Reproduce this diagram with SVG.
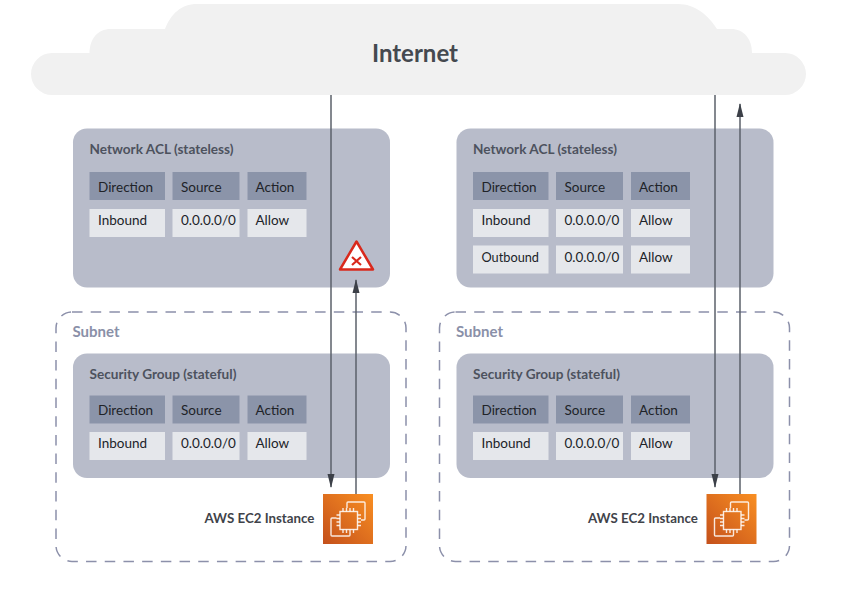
<svg xmlns="http://www.w3.org/2000/svg" xmlns:xlink="http://www.w3.org/1999/xlink" width="846" height="597" viewBox="0 0 846 597">
<style>
text{font-family:Lato,"Open Sans","Liberation Sans",sans-serif}
.panel{fill:#b8bcca}
.hd{fill:#8b94a9}
.cell{fill:#e5e7eb}
.t{font-size:13.5px;fill:#202328}
.title{font-size:13.6px;font-weight:700;fill:#4d525e}
.subnet{fill:none;stroke:#8c90aa;stroke-width:1.5;stroke-dasharray:10.500 8.200}
.sub{font-size:15px;font-weight:700;fill:#8a90a8}
.lbl{font-size:13.300px;font-weight:700;fill:#3f434a}
.cx{fill:none;stroke:#5b606a;stroke-width:1.5}
.ic{fill:none;stroke:#fff;stroke-opacity:.85;stroke-width:1.400}
</style>
<defs>
<marker id="arr" markerUnits="userSpaceOnUse" markerWidth="14" markerHeight="8" refX="13" refY="4" orient="auto" viewBox="0 0 14 8"><path d="M14 4L0 0.500V7.500Z" fill="#3c4048"/></marker>
<linearGradient id="g" x1="0" y1="1" x2="1" y2="0"><stop offset="0" stop-color="#c4501b"/><stop offset="1" stop-color="#f98f22"/></linearGradient>
<g id="icon">
<rect width="50" height="50" fill="url(#g)"/>
<rect x="17" y="17.500" width="17.500" height="18" class="ic"/>
<path class="ic" d="M24 14V9a1 1 0 0 1 1-1H41a1 1 0 0 1 1 1V25a1 1 0 0 1-1 1H38M13.500 24H9a1 1 0 0 0-1 1V41a1 1 0 0 0 1 1H26a1 1 0 0 0 1-1V39M20 17.500v-3.500M23.500 17.500v-3.500M27 17.500v-3.500M30.500 17.500v-3.500M20 35.500v3.500M23.500 35.500v3.500M27 35.500v3.500M30.500 35.500v3.500M17 21h-3.500M17 24.500h-3.500M17 28h-3.500M17 31.500h-3.500M34.500 21h3.500M34.500 24.500h3.500M34.500 28h3.500M34.500 31.500h3.500"/>
</g>
<g id="hdr">
<rect x="0" y="0" width="75.500" height="28" class="hd"/><rect x="83" y="0" width="67" height="28" class="hd"/><rect x="158" y="0" width="59" height="28" class="hd"/>
<text class="t" x="8.500" y="19.500">Direction</text><text class="t" x="91.500" y="19.500">Source</text><text class="t" x="166" y="19.500">Action</text>
</g>
<g id="row-in">
<rect x="0" y="0" width="75.500" height="28" class="cell"/><rect x="83" y="0" width="67" height="28" class="cell"/><rect x="158" y="0" width="59" height="28" class="cell"/>
<text class="t" x="8.500" y="16">Inbound</text><text class="t" x="91.500" y="16">0.0.0.0/0</text><text class="t" x="166" y="16">Allow</text>
</g>
<g id="row-out">
<rect x="0" y="0" width="75.500" height="28" class="cell"/><rect x="83" y="0" width="67" height="28" class="cell"/><rect x="158" y="0" width="59" height="28" class="cell"/>
<text class="t" x="8.500" y="16" textLength="57.500" lengthAdjust="spacingAndGlyphs">Outbound</text><text class="t" x="91.500" y="16">0.0.0.0/0</text><text class="t" x="166" y="16">Allow</text>
</g>
</defs>
<rect width="846" height="597" fill="#fff"/>
<g id="internet">
<path fill="#f1f1f1" d="M52 95A21 21 0 0 1 52 53H89.500C90 39 97 29 111 29H165C171 14 181 4 197 4H678C695 4 708 15 717 29H731C744 29 752 39 752 53H785A21 21 0 0 1 785 95Z"/>
<text x="415" y="62" text-anchor="middle" font-size="24" font-weight="700" fill="#45494f">Internet</text>
</g>
<g id="nacl-left">
<rect x="73" y="128.500" width="317" height="159" rx="14" class="panel"/>
<text class="title" x="89.500" y="153.500">Network ACL (stateless)</text>
<use xlink:href="#hdr" href="#hdr" x="89.500" y="172"/>
<use xlink:href="#row-in" href="#row-in" x="89.500" y="209"/>
</g>
<g id="nacl-right">
<rect x="456.500" y="128.500" width="317" height="159" rx="14" class="panel"/>
<text class="title" x="473" y="153.500">Network ACL (stateless)</text>
<use xlink:href="#hdr" href="#hdr" x="473" y="172"/>
<use xlink:href="#row-in" href="#row-in" x="473" y="209"/>
<use xlink:href="#row-out" href="#row-out" x="473" y="245.500"/>
</g>
<g id="subnet-left">
<rect x="56" y="312" width="350" height="249.500" rx="16" class="subnet"/>
<text class="sub" x="72.500" y="336.500">Subnet</text>
</g>
<g id="subnet-right">
<rect x="439.500" y="312" width="350" height="249.500" rx="16" class="subnet"/>
<text class="sub" x="456" y="336.500">Subnet</text>
</g>
<g id="sg-left">
<rect x="73" y="353.500" width="317" height="124.500" rx="14" class="panel"/>
<text class="title" x="89.500" y="378.500">Security Group (stateful)</text>
<use xlink:href="#hdr" href="#hdr" x="89.500" y="395.500"/>
<use xlink:href="#row-in" href="#row-in" x="89.500" y="432"/>
</g>
<g id="sg-right">
<rect x="456.500" y="353.500" width="317" height="124.500" rx="14" class="panel"/>
<text class="title" x="473" y="378.500">Security Group (stateful)</text>
<use xlink:href="#hdr" href="#hdr" x="473" y="395.500"/>
<use xlink:href="#row-in" href="#row-in" x="473" y="432"/>
</g>
<g id="ec2-left">
<use xlink:href="#icon" href="#icon" x="323" y="494"/>
<text class="lbl" x="204.500" y="523">AWS EC2 Instance</text>
</g>
<g id="ec2-right">
<use xlink:href="#icon" href="#icon" x="706.500" y="494"/>
<text class="lbl" x="588" y="523">AWS EC2 Instance</text>
</g>
<g id="connectors">
<line class="cx" x1="331" y1="95" x2="331" y2="487" marker-end="url(#arr)"/>
<line class="cx" x1="356" y1="494" x2="356" y2="280" marker-end="url(#arr)"/>
<line class="cx" x1="715" y1="95" x2="715" y2="487" marker-end="url(#arr)"/>
<line class="cx" x1="740" y1="494" x2="740" y2="104" marker-end="url(#arr)"/>
</g>
<g id="deny">
<path d="M356.500 241.500L373 269.500H340Z" fill="#fff" stroke="#d9291c" stroke-width="2.500" stroke-linejoin="round"/>
<path d="M352 257L361 265M361 257L352 265" stroke="#d9291c" stroke-width="2.200" fill="none"/>
</g>
</svg>
